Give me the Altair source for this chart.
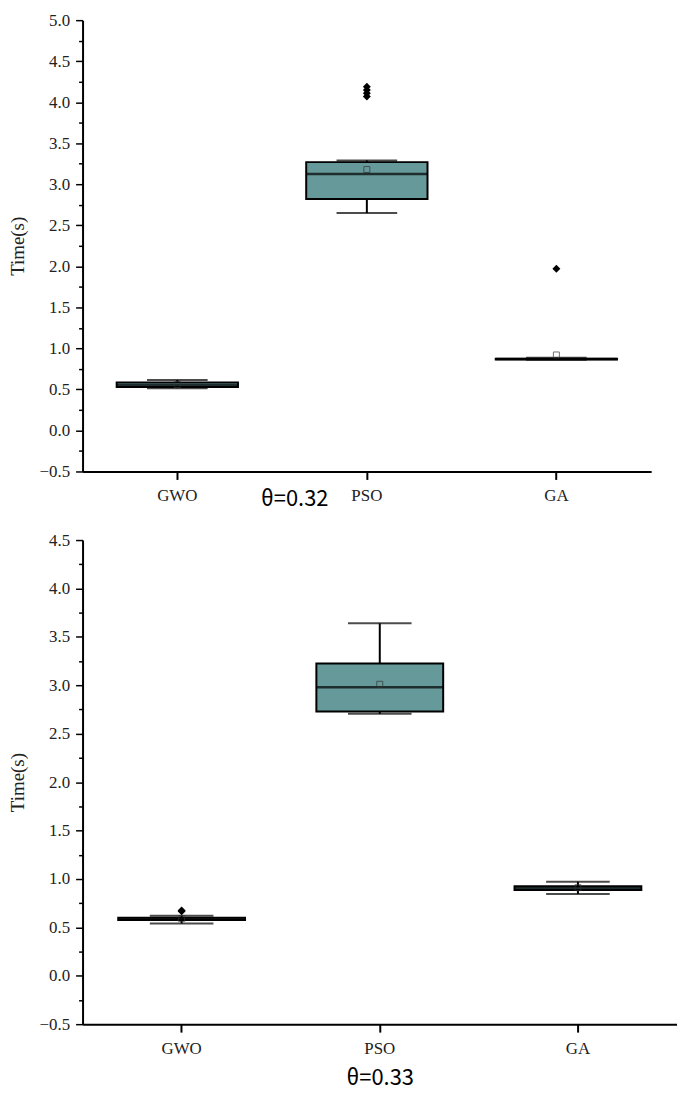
import altair as alt
import pandas as pd

categories = ["GWO", "PSO", "GA"]

# ---- theta = 0.32 (top panel) ----
top_lower = [0.515, 2.65, 0.86]
top_q1 = [0.53, 2.82, 0.865]
top_median = [0.55, 3.125, 0.87]
top_q3 = [0.585, 3.27, 0.875]
top_upper = [0.615, 3.29, 0.885]
top_mean = [0.56, 3.18, 0.92]
top_out_cat = ["PSO", "PSO", "PSO", "PSO", "GA"]
top_out_val = [4.07, 4.11, 4.15, 4.19, 1.97]
top_y_ticks = [-0.5, -0.25, 0.0, 0.25, 0.5, 0.75, 1.0, 1.25, 1.5, 1.75, 2.0, 2.25,
               2.5, 2.75, 3.0, 3.25, 3.5, 3.75, 4.0, 4.25, 4.5, 4.75, 5.0]

# ---- theta = 0.33 (bottom panel) ----
bot_lower = [0.54, 2.705, 0.845]
bot_q1 = [0.575, 2.73, 0.885]
bot_median = [0.585, 2.98, 0.905]
bot_q3 = [0.60, 3.225, 0.925]
bot_upper = [0.62, 3.64, 0.97]
bot_mean = [0.59, 3.01, 0.91]
bot_out_cat = ["GWO", "GWO"]
bot_out_val = [0.665, 0.675]
bot_y_ticks = [-0.5, -0.25, 0.0, 0.25, 0.5, 0.75, 1.0, 1.25, 1.5, 1.75, 2.0, 2.25,
               2.5, 2.75, 3.0, 3.25, 3.5, 3.75, 4.0, 4.25, 4.5]

SERIF = "Liberation Serif"
BOX_FILL = "#669999"
MAJOR = "abs(datum.value % 0.5) < 0.000001"


def panel(lower, q1, med, q3, upper, mean, out_cat, out_val, ticks, domain,
          w, h, title, title_x, title_y, label_pad, cap_px, box_px):
    df = pd.DataFrame({"cat": categories, "lower": lower, "q1": q1, "median": med,
                       "q3": q3, "upper": upper, "mean": mean})
    odf = pd.DataFrame({"cat": out_cat, "val": out_val})

    xaxis = alt.Axis(title=title, titleX=title_x, titleY=title_y, titleAlign="center",
                     titleBaseline="middle", titleFont="Noto Sans CJK SC",
                     titleFontSize=22, titleFontWeight="normal", titleColor="black",
                     labelAngle=0, labelFont=SERIF, labelFontSize=17, labelColor="#222",
                     labelPadding=label_pad, tickSize=8, tickWidth=2, tickColor="black",
                     domainWidth=2, domainColor="black", grid=False)
    yaxis = alt.Axis(title="Time(s)", titleFont=SERIF, titleFontSize=19,
                     titleFontWeight="normal", titleColor="#222", titlePadding=12,
                     values=ticks, format=".1f",
                     labelExpr=MAJOR + " ? datum.label : ''",
                     labelOverlap=False, labelFont=SERIF, labelFontSize=17,
                     labelColor="#222", labelPadding=6,
                     tickSize={"condition": {"test": MAJOR, "value": 7}, "value": 4},
                     tickWidth=1.5, tickColor="black", domainWidth=2,
                     domainColor="black", grid=False)
    xenc = alt.X("cat:N", sort=categories,
                 scale=alt.Scale(paddingInner=0, paddingOuter=0), axis=xaxis)
    yscale = alt.Scale(domain=domain, nice=False, zero=False)

    def Y(field):
        return alt.Y(f"{field}:Q", scale=yscale, axis=yaxis, title="Time(s)")

    base = alt.Chart(df)
    w_lo = base.mark_rule(color="black", strokeWidth=2).encode(x=xenc, y=Y("lower"), y2="q1:Q")
    w_hi = base.mark_rule(color="black", strokeWidth=2).encode(x=xenc, y=Y("q3"), y2="upper:Q")
    box = base.mark_bar(width={"band": 0.64}, fill=BOX_FILL, stroke="black",
                        strokeWidth=2).encode(x=xenc, y=Y("q1"), y2="q3:Q")
    med_t = base.mark_tick(color="black", size=box_px, thickness=2.5).encode(x=xenc, y=Y("median"))
    cap_lo = base.mark_tick(color="black", size=cap_px, thickness=2).encode(x=xenc, y=Y("lower"))
    cap_hi = base.mark_tick(color="black", size=cap_px, thickness=2).encode(x=xenc, y=Y("upper"))
    mean_p = base.mark_point(shape="square", filled=False, size=36, strokeWidth=1,
                             color="#333").encode(x=xenc, y=Y("mean"))
    outs = alt.Chart(odf).mark_point(shape="diamond", filled=True, size=64, color="black",
                                     opacity=1).encode(x=xenc, y=Y("val"))

    return alt.layer(w_lo, w_hi, box, med_t, cap_lo, cap_hi, mean_p, outs).properties(
        width=w, height=h)


top = panel(top_lower, top_q1, top_median, top_q3, top_upper, top_mean,
            top_out_cat, top_out_val, top_y_ticks, [-0.5, 5.0],
            572, 454, "θ=0.32", 213, 27, 8, 61, 122)
bottom = panel(bot_lower, bot_q1, bot_median, bot_q3, bot_upper, bot_mean,
               bot_out_cat, bot_out_val, bot_y_ticks, [-0.5, 4.5],
               598, 487, "θ=0.33", 299, 54, 9, 64, 128)

chart = alt.vconcat(top, bottom, spacing=22).properties(padding=0).configure_view(stroke=None)
chart.save("out.html", embed_options={"renderer": "svg", "actions": False})
